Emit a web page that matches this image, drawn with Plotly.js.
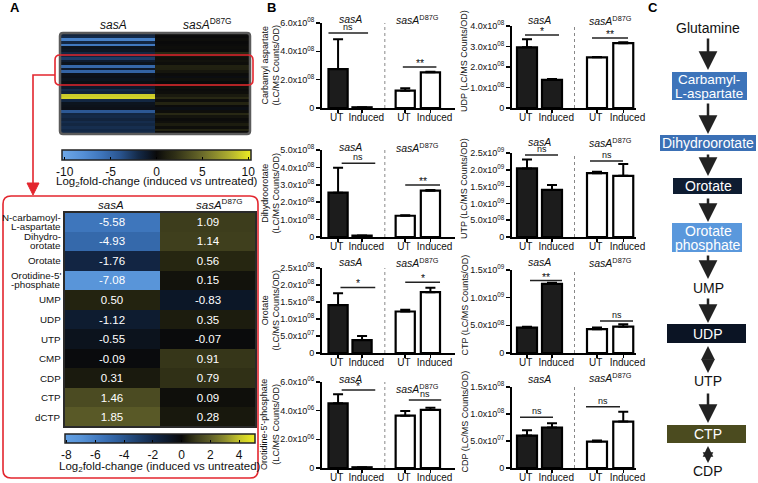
<!DOCTYPE html>
<html><head><meta charset="utf-8">
<script src="https://cdn.plot.ly/plotly-3.0.1.min.js"></script>
<style>html,body{margin:0;padding:0;background:#fff}#chart{width:758px;height:483px}</style>
</head><body><div id="chart"></div>
<script>
// ---------------- DATA ----------------
// Panel A – overview heatmap (log2 fold-change, induced vs untreated)
const overviewSasA = [-1.6,-2.0,-6.8,-1.8,-6.2,-0.6,-0.8,-1.8,-1.6,-2.8,-1.2,-0.6,-5.2,-1.0,-4.9,-0.5,-0.4,-0.6,-0.3,-0.5,-1.0,-2.0,-1.5,9.0,9.3,-1.8,-0.6,-0.5,-0.4,-4.2,-1.8,-2.0,-1.6,-2.1,-1.8,-2.2,-1.9,-2.0];
const overviewD87G = [0.1,0.0,0.2,0.0,0.1,0.2,0.1,1.6,0.6,0.3,0.4,0.2,1.2,1.1,0.6,0.1,-0.2,0.3,0.0,0.9,0.3,0.1,0.2,0.8,1.6,0.2,1.4,0.1,-0.3,0.2,1.6,0.5,0.1,0.3,0.9,0.2,1.3,0.1];
// Panel A – detail heatmap
const metabolites = ['N-carbamoyl-<br>L-aspartate','Dihydro-<br>orotate','Orotate',"Orotidine-5'<br>-phosphate",'UMP','UDP','UTP','CMP','CDP','CTP','dCTP'];
const foldSasA = [-5.58,-4.93,-1.76,-7.08,0.50,-1.12,-0.55,-0.09,0.31,1.46,1.85];
const foldD87G = [1.09,1.14,0.56,0.15,-0.83,0.35,-0.07,0.91,0.79,0.09,0.28];
const strainHeaders = ['<i>sasA</i>','<i>sasA</i><sup>D87G</sup>'];
// Panel B – LC/MS counts/OD (UT sasA, Induced sasA, UT D87G, Induced D87G)
const barLabels = ['UT','Induced','UT','Induced'];
const carbamylMean = [2.75e8,0.05e8,1.22e8,2.52e8];
const carbamylErr  = [2.10e8,0.01e8,0.17e8,0.04e8];
const dihydroMean  = [2.55e8,0.08e8,1.22e8,2.66e8];
const dihydroErr   = [1.43e8,0.01e8,0.03e8,0.04e8];
const orotateMean  = [1.41e8,0.38e8,1.22e8,1.79e8];
const orotateErr   = [0.35e8,0.12e8,0.05e8,0.13e8];
const ompMean      = [4.51e6,0.05e6,3.65e6,4.05e6];
const ompErr       = [0.63e6,0.01e6,0.33e6,0.16e6];
const udpMean      = [2.96e8,1.37e8,2.47e8,3.16e8];
const udpErr       = [0.39e8,0.04e8,0.02e8,0.05e8];
const utpMean      = [2.04e9,1.40e9,1.90e9,1.82e9];
const utpErr       = [0.27e9,0.15e9,0.04e9,0.35e9];
const ctpMean      = [0.46e9,1.25e9,0.43e9,0.475e9];
const ctpErr       = [0.015e9,0.02e9,0.03e9,0.045e9];
const cdpMean      = [0.60e8,0.75e8,0.49e8,0.86e8];
const cdpErr       = [0.10e8,0.08e8,0.02e8,0.18e8];
const sigCarbamyl = ['ns','**'], sigDihydro = ['ns','**'], sigOrotate = ['*','*'], sigOmp = ['*','ns'];
const sigUdp = ['*','**'], sigUtp = ['ns','ns'], sigCtp = ['**','ns'], sigCdp = ['ns','ns'];
// Panel C
const pathway = ['Glutamine','Carbamyl-<br>L-aspartate','Dihydroorotate','Orotate','Orotate<br>phosphate','UMP','UDP','UTP','CTP','CDP'];

// ---------------- HELPERS ----------------
const W=758,H=483;
const X=p=>p/W, Y=p=>1-p/H;
const FONT='Liberation Sans, Arial, Helvetica, sans-serif';
const NB='\u00a0';
const sci=(m,e)=>m+'x10<sup>'+e+'</sup>';
function rr(x0,y0,x1,y1,r){
  const P=(x,y)=>X(x)+','+Y(y);
  return 'M'+P(x0+r,y0)+' L'+P(x1-r,y0)+' Q'+P(x1,y0)+' '+P(x1,y0+r)+' L'+P(x1,y1-r)+' Q'+P(x1,y1)+' '+P(x1-r,y1)+
    ' L'+P(x0+r,y1)+' Q'+P(x0,y1)+' '+P(x0,y1-r)+' L'+P(x0,y0+r)+' Q'+P(x0,y0)+' '+P(x0+r,y0)+' Z';
}
function buildScale(stops,zmin,zmax){return stops.map(s=>[(s[0]-zmin)/(zmax-zmin),s[1]]);}

const traces=[], shapes=[], annotations=[];
const layout={width:W,height:H,margin:{l:0,r:0,t:0,b:0},paper_bgcolor:'#fff',plot_bgcolor:'rgba(0,0,0,0)',
  showlegend:false,font:{family:FONT,color:'#111',size:10},shapes:shapes,annotations:annotations};
function txt(x,y,t,o){annotations.push(Object.assign({xref:'paper',yref:'paper',x:X(x),y:Y(y),text:t,showarrow:false,
  xanchor:'center',yanchor:'middle',font:{family:FONT,size:11,color:'#111'}},o||{}));}

// ---------------- PANEL B ----------------
const barPos=[0,1,2.8,3.85];
const barTickText=barLabels.map((t,i)=>i%2===0?t+NB:NB+NB+NB+t);
const barFill=['#1c1c1c','#1c1c1c','#ffffff','#ffffff'];
const cols=[{dom:[322,455],range:[-0.67,4.875],sep:1.95,tx:270},{dom:[512,636],range:[-0.6,4.36],sep:1.9,tx:464}];
const rowsL=[[23,108],[150,237],[268,353],[382,468]];
const rowsR=[[26,108],[153,237],[270,353],[387,468]];
const charts=[
 {m:carbamylMean,e:carbamylErr,s:sigCarbamyl,c:0,r:0,lab:'Carbamyl aspartate<br>(LC/MS Counts/OD)',tv:[0,2e8,4e8,6e8],tt:['0',sci('2.0','08'),sci('4.0','08'),sci('6.0','08')],
  br:[[-0.4,1.25,5.3e8],[2.7,4.1,2.9e8]],ty:[19,19]},
 {m:dihydroMean,e:dihydroErr,s:sigDihydro,c:0,r:1,lab:'Dihydroorotate<br>(LC/MS Counts/OD)',tv:[0,1e8,2e8,3e8,4e8,5e8],tt:['0',sci('1.0','08'),sci('2.0','08'),sci('3.0','08'),sci('4.0','08'),sci('5.0','08')],
  br:[[0.15,1.55,4.24e8],[2.8,4.25,2.99e8]],ty:[147,147]},
 {m:orotateMean,e:orotateErr,s:sigOrotate,c:0,r:2,lab:'Orotate<br>(LC/MS Counts/OD)',tv:[0,5e7,1e8,1.5e8,2e8,2.5e8],tt:['0',sci('5.0','07'),sci('1.0','08'),sci('1.5','08'),sci('2.0','08'),sci('2.5','08')],
  br:[[0.1,1.55,1.93e8],[2.8,4.25,2.08e8]],ty:[262,262]},
 {m:ompMean,e:ompErr,s:sigOmp,c:0,r:3,lab:"Orotidine-5'-phosphate<br>(LC/MS Counts/OD)",tv:[0,2e6,4e6,6e6],tt:['0',sci('2.0','06'),sci('4.0','06'),sci('6.0','06')],
  br:[[0.15,1.55,5.44e6],[2.95,4.3,4.75e6]],ty:[379,388]},
 {m:udpMean,e:udpErr,s:sigUdp,c:1,r:0,lab:'UDP (LC/MS Counts/OD)',tv:[0,1e8,2e8,3e8,4e8],tt:['0',sci('1.0','08'),sci('2.0','08'),sci('3.0','08'),sci('4.0','08')],
  br:[[-0.08,1.28,3.56e8],[2.6,4.04,3.41e8]],ty:[20,20]},
 {m:utpMean,e:utpErr,s:sigUtp,c:1,r:1,lab:'UTP (LC/MS Counts/OD)',tv:[0,5e8,1e9,1.5e9,2e9,2.5e9],tt:['0',sci('5.0','08'),sci('1.0','09'),sci('1.5','09'),sci('2.0','09'),sci('2.5','09')],
  br:[[-0.08,1.24,2.44e9],[2.52,3.84,2.26e9]],ty:[142,142]},
 {m:ctpMean,e:ctpErr,s:sigCtp,c:1,r:2,lab:'CTP (LC/MS Counts/OD)',tv:[0,5e8,1e9,1.5e9],tt:['0',sci('5.0','08'),sci('1.0','09'),sci('1.5','09')],
  br:[[0.12,1.4,1.31e9],[2.92,4.24,0.58e9]],ty:[262,262]},
 {m:cdpMean,e:cdpErr,s:sigCdp,c:1,r:3,lab:'CDP (LC/MS Counts/OD)',tv:[0,5e7,1e8,1.5e8],tt:['0',sci('5.0','07'),sci('1.0','08'),sci('1.5','08')],
  br:[[-0.28,1.04,0.94e8],[2.36,3.72,1.135e8]],ty:[379,377]}
];
charts.forEach((c,i)=>{
  const n=i+1, xa='x'+n, ya='y'+n;
  const col=cols[c.c], rw=(c.c===0?rowsL:rowsR)[c.r];
  const top=c.tv[c.tv.length-1];
  traces.push({type:'bar',x:barPos,y:c.m,width:0.8,xaxis:xa,yaxis:ya,hoverinfo:'skip',
    marker:{color:barFill,line:{color:'#000',width:2.2}},
    error_y:{type:'data',symmetric:false,array:c.e,arrayminus:[0,0,0,0],color:'#000',thickness:2,width:5}});
  layout[n===1?'xaxis':'xaxis'+n]={domain:[X(col.dom[0]),X(col.dom[1])],anchor:ya,range:col.range,showgrid:false,zeroline:false,
    showline:true,linecolor:'#000',linewidth:2,ticks:'outside',ticklen:3,tickwidth:1.5,tickcolor:'#000',tickangle:0,ticklabelstandoff:-4,
    tickvals:barPos,ticktext:barTickText,tickfont:{size:10,family:FONT,color:'#111'},fixedrange:true};
  layout[n===1?'yaxis':'yaxis'+n]={domain:[Y(rw[1]),Y(rw[0])],anchor:xa,range:[0,top],showgrid:false,zeroline:false,
    showline:true,linecolor:'#000',linewidth:2,ticks:'outside',ticklen:4,tickwidth:1.5,tickcolor:'#000',
    tickvals:c.tv,ticktext:c.tt,tickfont:{size:9,family:FONT,color:'#111'},fixedrange:true};
  shapes.push({type:'line',xref:xa,yref:ya+' domain',x0:col.sep,x1:col.sep,y0:0,y1:1,line:{color:'#888',width:1,dash:'dot'}});
  c.br.forEach((b,k)=>{
    shapes.push({type:'line',xref:xa,yref:ya,x0:b[0],x1:b[1],y0:b[2],y1:b[2],line:{color:'#222',width:1.5}});
    annotations.push({xref:xa,yref:ya,x:(b[0]+b[1])/2,y:b[2],text:c.s[k],showarrow:false,yanchor:'bottom',
      yshift:c.s[k]==='ns'?-1:-4,font:{family:FONT,size:c.s[k]==='ns'?9:10.5,color:'#111'}});
  });
  annotations.push({xref:xa,yref:'paper',x:0.5,y:Y(c.ty[0]),text:strainHeaders[0],showarrow:false,yanchor:'middle',font:{family:FONT,size:10.5,color:'#111'}});
  annotations.push({xref:xa,yref:'paper',x:3.33,y:Y(c.ty[1]),text:strainHeaders[1],showarrow:false,yanchor:'middle',font:{family:FONT,size:10.5,color:'#111'}});
  const cy=(rw[0]+rw[1])/2-(c.c===1?6:0);
  txt(col.tx,cy,c.lab,{textangle:-90,font:{family:FONT,size:9,color:'#111'}});
});

// ---------------- PANEL A ----------------
const zminT=-10.3,zmaxT=10.3;
const scaleTop=buildScale([[-10.3,'#6ea8e8'],[-8,'#5590d6'],[-6,'#3e75bb'],[-4,'#2a5590'],[-2,'#142a48'],[-1,'#0e1a2c'],[0,'#0a0a0a'],[1,'#1e1e10'],[2,'#2e2e16'],[5,'#6a6a2a'],[8,'#b0b030'],[10.3,'#eeee22']],zminT,zmaxT);
traces.push({type:'heatmap',z:overviewSasA.map((v,i)=>[v,overviewD87G[i]]),x:[0,1],y:overviewSasA.map((v,i)=>i),
  xaxis:'x9',yaxis:'y9',zmin:zminT,zmax:zmaxT,colorscale:scaleTop,hoverinfo:'skip',showscale:true,
  colorbar:{orientation:'h',x:X(62),xanchor:'left',y:Y(150),yanchor:'top',len:(251-62)/W,lenmode:'fraction',thickness:10,
    outlinewidth:1.5,outlinecolor:'#222',xpad:0,ypad:0,tickvals:[-10,-5,0,5,10],ticktext:['-10','-5','0','5','10'],
    ticks:'inside',ticklen:3,tickcolor:'#000',tickfont:{size:12,family:FONT,color:'#111'}}});
layout.xaxis9={domain:[X(60),X(250)],anchor:'y9',range:[-0.5,1.5],visible:false,fixedrange:true};
layout.yaxis9={domain:[Y(134),Y(33)],anchor:'x9',range:[overviewSasA.length-0.5,-0.5],visible:false,fixedrange:true};

const zminB=-8.1,zmaxB=5.1;
const scaleBot=buildScale([[-8.1,'#62a0e4'],[-7,'#5894d8'],[-5.5,'#3d74ba'],[-4.5,'#2f609f'],[-3,'#1d3f6b'],[-2,'#13294a'],[-1,'#0d1a2d'],[0,'#0a0a0a'],[0.5,'#232310'],[1,'#3a3a1b'],[1.9,'#5b5b28'],[3,'#8c8c2e'],[4,'#c4c42c'],[5.1,'#eeee22']],zminB,zmaxB);
traces.push({type:'heatmap',z:foldSasA.map((v,i)=>[v,foldD87G[i]]),text:foldSasA.map((v,i)=>[v.toFixed(2),foldD87G[i].toFixed(2)]),
  texttemplate:'%{text}',textfont:{family:FONT,size:11.5,color:'#ffffff'},x:[0,1],y:metabolites.map((m,i)=>i),
  xaxis:'x10',yaxis:'y10',zmin:zminB,zmax:zmaxB,colorscale:scaleBot,hoverinfo:'skip',showscale:true,
  colorbar:{orientation:'h',x:X(65),xanchor:'left',y:Y(434),yanchor:'top',len:(255-65)/W,lenmode:'fraction',thickness:9,
    outlinewidth:1.5,outlinecolor:'#222',xpad:0,ypad:0,tickvals:[-8,-6,-4,-2,0,2,4],ticktext:['-8','-6','-4','-2','0','2','4'],
    ticks:'inside',ticklen:3,tickcolor:'#000',tickfont:{size:12,family:FONT,color:'#111'}}});
layout.xaxis10={domain:[X(64),X(256)],anchor:'y10',range:[-0.5,1.5],visible:false,fixedrange:true};
layout.yaxis10={domain:[Y(427),Y(212)],anchor:'x10',range:[metabolites.length-0.5,-0.5],visible:false,fixedrange:true};
// row labels (tight two-line spacing as in the reference)
metabolites.forEach((m,i)=>{
  const parts=m.split('<br>');
  parts.forEach((p,k)=>{
    const shift=parts.length===1?0:(k===0?4.5:-4.5);
    annotations.push({xref:'paper',yref:'y10',x:X(62.5),y:i,yshift:shift,text:p,showarrow:false,xanchor:'right',yanchor:'middle',
      font:{family:FONT,size:9.8,color:'#111'}});
  });
});

// frames and call-out
shapes.push({type:'path',xref:'paper',yref:'paper',path:rr(60,33,250,134,3),line:{color:'#5a5a5a',width:2.5}});
shapes.push({type:'rect',xref:'paper',yref:'paper',x0:X(64),x1:X(256),y0:Y(427),y1:Y(212),line:{color:'#2a2a2a',width:2}});
const RED='#e3262e';
shapes.push({type:'path',xref:'paper',yref:'paper',path:rr(55,55,253,85,5),line:{color:RED,width:1.6}});
shapes.push({type:'path',xref:'paper',yref:'paper',path:'M'+X(55)+','+Y(75)+' L'+X(33)+','+Y(75)+' L'+X(33)+','+Y(185),line:{color:RED,width:1.6}});
shapes.push({type:'path',xref:'paper',yref:'paper',path:'M'+X(27)+','+Y(183)+' L'+X(39)+','+Y(183)+' L'+X(33)+','+Y(195)+' Z',fillcolor:RED,line:{color:RED,width:1}});
shapes.push({type:'path',xref:'paper',yref:'paper',path:rr(3,196,258,478,8),line:{color:RED,width:1.6}});

txt(113,25,strainHeaders[0],{font:{family:FONT,size:12,color:'#111'}});
txt(207,24,strainHeaders[1],{font:{family:FONT,size:12,color:'#111'}});
txt(157,182,'Log<sub>2</sub>fold-change (induced vs untreated)',{font:{family:FONT,size:11.5,color:'#111'}});
txt(111,205,strainHeaders[0],{font:{family:FONT,size:11.5,color:'#111'}});
txt(219,204,strainHeaders[1],{font:{family:FONT,size:11.5,color:'#111'}});
txt(160,467,'Log<sub>2</sub>fold-change (induced vs untreated)',{font:{family:FONT,size:11.5,color:'#111'}});

// panel labels
txt(15,8,'<b>A</b>',{font:{family:FONT,size:13,color:'#000'}});
txt(271,8,'<b>B</b>',{font:{family:FONT,size:13,color:'#000'}});
txt(653,8,'<b>C</b>',{font:{family:FONT,size:13,color:'#000'}});

// ---------------- PANEL C ----------------
const CX=708;
function box(x0,x1,y0,y1,color){shapes.push({type:'rect',xref:'paper',yref:'paper',x0:X(x0),x1:X(x1),y0:Y(y1),y1:Y(y0),fillcolor:color,line:{width:0}});}
function arr(y0,y1,sz){annotations.push({xref:'paper',yref:'paper',x:X(CX),y:Y(y1),ax:0,ay:y0-y1,axref:'pixel',ayref:'pixel',
  showarrow:true,text:'',arrowhead:2,arrowsize:sz||1.5,arrowwidth:2.5,arrowcolor:'#222'});}
function darr(y0,y1,sz){const m=(y0+y1)/2; arr(m,y0,sz); arr(m,y1,sz);}
const CF=14;
txt(CX,28,pathway[0],{font:{family:FONT,size:CF,color:'#111'}});
arr(37,70);
box(672,747,72,100,'#3d74ba');
txt(CX+1,80,'Carbamyl-',{font:{family:FONT,size:13.5,color:'#fff'}});
txt(CX+1,93,'L-aspartate',{font:{family:FONT,size:13.5,color:'#fff'}});
arr(102,134);
box(660,756,135,151,'#3b70b5');
txt(CX,143,pathway[2],{font:{family:FONT,size:CF,color:'#fff'}});
arr(153,176);
box(673,742,178,194,'#0e1c31');
txt(CX,186,pathway[3],{font:{family:FONT,size:CF,color:'#fff'}});
arr(197,222);
box(672,742,223,252,'#5a98dc');
txt(CX,231,'Orotate',{font:{family:FONT,size:CF,color:'#fff'}});
txt(CX,245,'phosphate',{font:{family:FONT,size:CF,color:'#fff'}});
arr(254,279);
txt(CX,288,pathway[5],{font:{family:FONT,size:CF,color:'#111'}});
arr(297,323);
box(667,746,324,343,'#0b1424');
txt(CX,334,pathway[6],{font:{family:FONT,size:CF,color:'#fff'}});
darr(346,373,1.1);
txt(CX,381,pathway[7],{font:{family:FONT,size:CF,color:'#111'}});
arr(392,423);
box(667,746,425,443,'#4b4b1f');
txt(CX,434,pathway[8],{font:{family:FONT,size:CF,color:'#fff'}});
darr(446,463,0.85);
txt(CX,471,pathway[9],{font:{family:FONT,size:CF,color:'#111'}});

Plotly.newPlot('chart',traces,layout,{staticPlot:true,displayModeBar:false});
</script></body></html>
